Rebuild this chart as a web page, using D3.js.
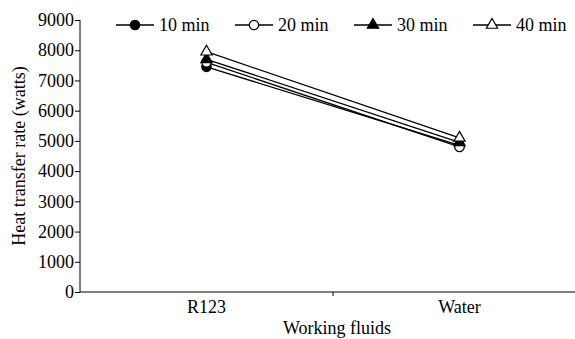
<!DOCTYPE html>
<html>
<head>
<meta charset="utf-8">
<script src="https://cdn.jsdelivr.net/npm/d3@7"></script>
<style>
body { margin: 0; background: #fff; }
text { font-family: "Liberation Serif", "Times New Roman", serif; }
</style>
</head>
<body>
<svg id="chart" width="575" height="339"></svg>
<script>
// data
const fluids = ["R123", "Water"];
const seriesNames = ["10 min", "20 min", "30 min", "40 min"];
const min10 = [7450, 4850];
const min20 = [7600, 4800];
const min30 = [7700, 4950];
const min40 = [7950, 5100];
const yTicks = [0, 1000, 2000, 3000, 4000, 5000, 6000, 7000, 8000, 9000];

const seriesValues = [min10, min20, min30, min40];
const markerFill = ["black", "white", "black", "white"];
const markerShape = [d3.symbolCircle, d3.symbolCircle, d3.symbolTriangle, d3.symbolTriangle];

var svg = d3.select("#chart"),
	plotLeft = 80,
	plotTop = 20,
	plotBottom = 292,
	plotRight = 586

var xScale = d3.scaleBand().domain(fluids).range([plotLeft, plotRight]),
	yScale = d3.scaleLinear().domain([0, 9000]).range([plotBottom, plotTop]);

// y axis
svg.append("g")
	.attr("transform", "translate(" + plotLeft + ",0)")
	.call(d3.axisLeft(yScale).tickValues(yTicks).tickSize(5).tickPadding(1).tickFormat(d3.format("d")))
	.call(g => g.select(".domain").attr("d", "M0," + plotTop + "V" + plotBottom))
	.selectAll("text")
	.attr("font-size", "18px")
	.attr("font-family", "Liberation Serif")
	.attr("fill", "black");

// x axis
var xAxis = svg.append("g")
	.attr("transform", "translate(0," + plotBottom + ")")
xAxis.append("line")
	.attr("x1", plotLeft).attr("x2", plotRight)
	.attr("stroke", "black")
// tick between the categories
xAxis.append("line")
	.attr("x1", xScale("Water")).attr("x2", xScale("Water"))
	.attr("y1", 0).attr("y2", 4)
	.attr("stroke", "black")
xAxis.selectAll(".xlabel")
	.data(fluids)
	.enter().append("text")
	.attr("x", d => xScale(d) + xScale.bandwidth() / 2)
	.attr("y", 21)
	.attr("text-anchor", "middle")
	.attr("font-size", "18px")
	.text(d => d)

svg.append("text")
	.attr("x", 337)
	.attr("y", 334)
	.attr("text-anchor", "middle")
	.attr("font-size", "18px")
	.text("Working fluids")

svg.append("text")
	.attr("transform", "translate(25," + ((plotTop + plotBottom) / 2) + ") rotate(-90)")
	.attr("text-anchor", "middle")
	.attr("font-size", "18px")
	.text("Heat transfer rate (watts)")

var line = d3.line()
	.x((d, i) => xScale(fluids[i]) + xScale.bandwidth() / 2)
	.y(d => yScale(d))

seriesValues.forEach(function(vals, s) {
	svg.append("path")
		.attr("d", line(vals))
		.attr("fill", "none")
		.attr("stroke", "black")
		.attr("stroke-width", 1.3)
})

seriesValues.forEach(function(vals, s) {
	svg.selectAll(".m" + s)
		.data(vals)
		.enter().append("path")
		.attr("d", d3.symbol().type(markerShape[s]).size(markerShape[s] === d3.symbolCircle ? 70 : 55))
		.attr("transform", (d, i) => "translate(" + (xScale(fluids[i]) + xScale.bandwidth() / 2) + "," + yScale(d) + ")")
		.attr("fill", markerFill[s])
		.attr("stroke", "black")
		.attr("stroke-width", 1.2)
})

// legend
var legend = svg.append("g")
seriesNames.forEach(function(name, s) {
	var x0 = 116 + s * 119, y0 = 25
	legend.append("line")
		.attr("x1", x0).attr("x2", x0 + 38)
		.attr("y1", y0).attr("y2", y0)
		.attr("stroke", "black").attr("stroke-width", 1.3)
	legend.append("path")
		.attr("d", d3.symbol().type(markerShape[s]).size(markerShape[s] === d3.symbolCircle ? 70 : 55))
		.attr("transform", "translate(" + (x0 + 19) + "," + y0 + ")")
		.attr("fill", markerFill[s])
		.attr("stroke", "black")
		.attr("stroke-width", 1.2)
	legend.append("text")
		.attr("x", x0 + 43)
		.attr("y", y0 + 6)
		.attr("font-size", "18px")
		.text(name)
})
</script>
</body>
</html>
